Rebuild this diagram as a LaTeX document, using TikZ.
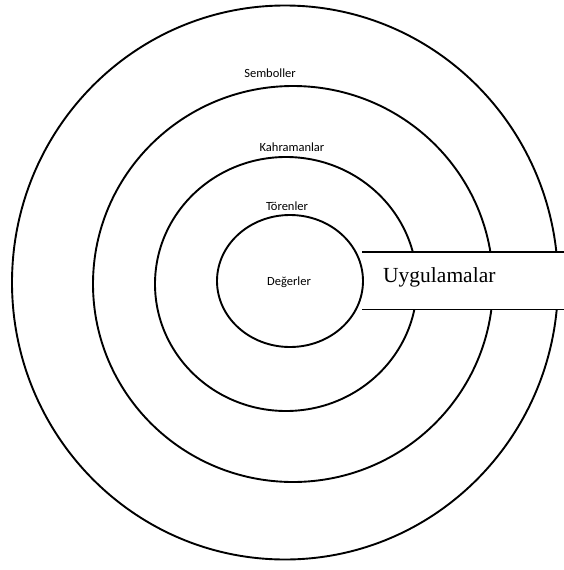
\documentclass[tikz,border=0pt]{standalone}
\usepackage{fontspec}
\setmainfont{Liberation Serif}
\newfontfamily\labelfont{Carlito}
\begin{document}
\begin{tikzpicture}[x=1pt,y=-1pt,
  ring/.style={draw=black,line width=1.9pt},
  ringlabel/.style={font=\labelfont\fontsize{12.5}{14}\selectfont,inner sep=0pt},
  edgeline/.style={draw=black,line width=1.4pt}]
\useasboundingbox[fill=white] (0,0) rectangle (564,570);
% rings
\draw[ring] (285,282.5) ellipse [x radius=273pt, y radius=277pt];
\draw[ring] (293,284) ellipse [x radius=200pt, y radius=198pt];
\draw[ring] (286,284) ellipse [x radius=131pt, y radius=127pt];
% practice box
\node[fill=white,inner sep=0pt,minimum width=202pt,minimum height=57pt,anchor=north west] (box) at (362,252) {};
\draw[edgeline] (box.north west) -- (box.north east);
\draw[edgeline] (box.south west) -- (box.south east);
\draw[ring] (290,281) ellipse [x radius=73pt, y radius=66pt];
\node[anchor=base west,inner sep=0pt,font=\fontsize{21.5}{24}\selectfont] (uyg) at (383,282) {Uygulamalar};
% labels
\node[ringlabel] (semb) at (270,73) {Semboller};
\node[ringlabel] (kahr) at (292,147) {Kahramanlar};
\node[ringlabel] (toren) at (287,206) {Törenler};
\node[ringlabel] (deger) at (289,282) {Değerler};
\end{tikzpicture}
\end{document}
